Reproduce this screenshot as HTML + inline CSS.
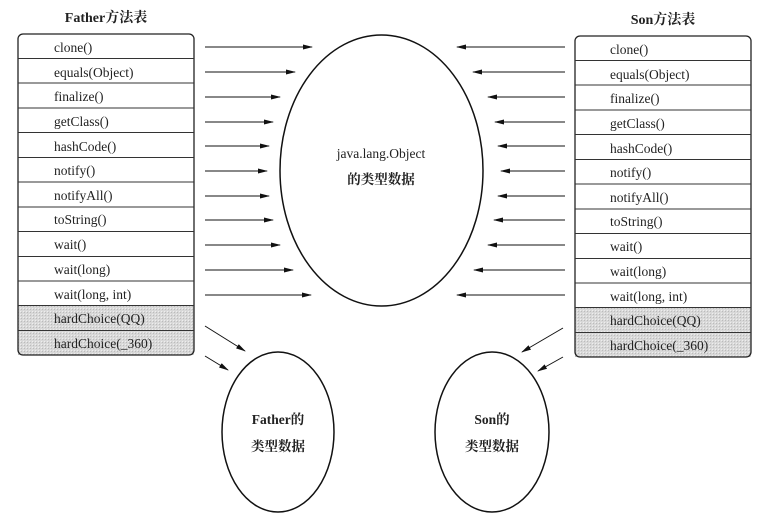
<!DOCTYPE html>
<html><head><meta charset="utf-8"><style>
body{margin:0;background:#fff;}
svg text{font-family:"Liberation Serif","Noto Serif CJK SC",serif;fill:#222;}
</style></head><body>
<svg width="772" height="520" viewBox="0 0 772 520" xmlns="http://www.w3.org/2000/svg">
<defs>
<marker id="a" markerWidth="10" markerHeight="6" refX="9" refY="3" orient="auto" markerUnits="userSpaceOnUse"><path d="M0,0.5 L10,3 L0,5.5 Z" fill="#111"/></marker>
<pattern id="g" width="3" height="3" patternUnits="userSpaceOnUse"><rect width="3" height="3" fill="#d8d8d8"/><rect width="1" height="1" fill="#bbb"/><rect x="2" y="2" width="1" height="1" fill="#eee"/></pattern>
</defs>
<text x="106" y="22" font-size="14" font-weight="bold" text-anchor="middle">Father方法表</text>
<text x="663" y="24" font-size="14" font-weight="bold" text-anchor="middle">Son方法表</text>
<g id="L">
<rect x="18" y="305" width="176" height="50" fill="url(#g)"/>
<rect x="18" y="34" width="176" height="321" rx="5" fill="none" stroke="#222" stroke-width="1.3"/>
<g stroke="#333" stroke-width="1">
<line x1="18" y1="58.5" x2="194" y2="58.5"/><line x1="18" y1="83" x2="194" y2="83"/><line x1="18" y1="108" x2="194" y2="108"/><line x1="18" y1="132.5" x2="194" y2="132.5"/><line x1="18" y1="157.5" x2="194" y2="157.5"/><line x1="18" y1="182" x2="194" y2="182"/><line x1="18" y1="207" x2="194" y2="207"/><line x1="18" y1="231.5" x2="194" y2="231.5"/><line x1="18" y1="256.5" x2="194" y2="256.5"/><line x1="18" y1="281" x2="194" y2="281"/><line x1="18" y1="305.5" x2="194" y2="305.5"/><line x1="18" y1="330.5" x2="194" y2="330.5"/>
</g>
<g font-size="13.5">
<text x="54" y="52">clone()</text><text x="54" y="77">equals(Object)</text><text x="54" y="101">finalize()</text><text x="54" y="126">getClass()</text><text x="54" y="151">hashCode()</text><text x="54" y="175">notify()</text><text x="54" y="200">notifyAll()</text><text x="54" y="224">toString()</text><text x="54" y="249">wait()</text><text x="54" y="274">wait(long)</text><text x="54" y="299">wait(long, int)</text><text x="54" y="323">hardChoice(QQ)</text><text x="54" y="348">hardChoice(_360)</text>
</g>
</g>
<g transform="translate(557,2)">
<rect x="18" y="305" width="176" height="50" fill="url(#g)"/>
<rect x="18" y="34" width="176" height="321" rx="5" fill="none" stroke="#222" stroke-width="1.3"/>
<g stroke="#333" stroke-width="1">
<line x1="18" y1="58.5" x2="194" y2="58.5"/><line x1="18" y1="83" x2="194" y2="83"/><line x1="18" y1="108" x2="194" y2="108"/><line x1="18" y1="132.5" x2="194" y2="132.5"/><line x1="18" y1="157.5" x2="194" y2="157.5"/><line x1="18" y1="182" x2="194" y2="182"/><line x1="18" y1="207" x2="194" y2="207"/><line x1="18" y1="231.5" x2="194" y2="231.5"/><line x1="18" y1="256.5" x2="194" y2="256.5"/><line x1="18" y1="281" x2="194" y2="281"/><line x1="18" y1="305.5" x2="194" y2="305.5"/><line x1="18" y1="330.5" x2="194" y2="330.5"/>
</g>
<g font-size="13.5">
<text x="53" y="52">clone()</text><text x="53" y="77">equals(Object)</text><text x="53" y="101">finalize()</text><text x="53" y="126">getClass()</text><text x="53" y="151">hashCode()</text><text x="53" y="175">notify()</text><text x="53" y="200">notifyAll()</text><text x="53" y="224">toString()</text><text x="53" y="249">wait()</text><text x="53" y="274">wait(long)</text><text x="53" y="299">wait(long, int)</text><text x="53" y="323">hardChoice(QQ)</text><text x="53" y="348">hardChoice(_360)</text>
</g>
</g>
<ellipse cx="381.5" cy="170.5" rx="101.5" ry="135.5" fill="none" stroke="#111" stroke-width="1.5"/>
<text x="381" y="158" font-size="13.5" text-anchor="middle">java.lang.Object</text>
<text x="381" y="184" font-size="13.5" font-weight="bold" text-anchor="middle">的类型数据</text>
<ellipse cx="278" cy="432" rx="56" ry="80" fill="none" stroke="#111" stroke-width="1.5"/>
<text x="278" y="424" font-size="13.5" font-weight="bold" text-anchor="middle">Father的</text>
<text x="278" y="451" font-size="13.5" font-weight="bold" text-anchor="middle">类型数据</text>
<ellipse cx="492" cy="432" rx="57" ry="80" fill="none" stroke="#111" stroke-width="1.5"/>
<text x="492" y="424" font-size="13.5" font-weight="bold" text-anchor="middle">Son的</text>
<text x="492" y="451" font-size="13.5" font-weight="bold" text-anchor="middle">类型数据</text>
<g stroke="#111" stroke-width="1" marker-end="url(#a)">
<line x1="205" y1="47" x2="312" y2="47"/><line x1="205" y1="72" x2="295" y2="72"/><line x1="205" y1="97" x2="280" y2="97"/><line x1="205" y1="122" x2="273" y2="122"/><line x1="205" y1="146" x2="269" y2="146"/><line x1="205" y1="171" x2="267" y2="171"/><line x1="205" y1="196" x2="269" y2="196"/><line x1="205" y1="220" x2="273" y2="220"/><line x1="205" y1="245" x2="280" y2="245"/><line x1="205" y1="270" x2="293" y2="270"/><line x1="205" y1="295" x2="311" y2="295"/>
<line x1="565" y1="47" x2="457" y2="47"/><line x1="565" y1="72" x2="473" y2="72"/><line x1="565" y1="97" x2="488" y2="97"/><line x1="565" y1="122" x2="495" y2="122"/><line x1="565" y1="146" x2="498" y2="146"/><line x1="565" y1="171" x2="501" y2="171"/><line x1="565" y1="196" x2="498" y2="196"/><line x1="565" y1="220" x2="494" y2="220"/><line x1="565" y1="245" x2="488" y2="245"/><line x1="565" y1="270" x2="474" y2="270"/><line x1="565" y1="295" x2="457" y2="295"/>
<line x1="205" y1="326" x2="245" y2="351"/><line x1="205" y1="356" x2="228" y2="370"/>
<line x1="563" y1="328" x2="522" y2="352"/><line x1="563" y1="357" x2="538" y2="371"/>
</g>
</svg>
</body></html>
